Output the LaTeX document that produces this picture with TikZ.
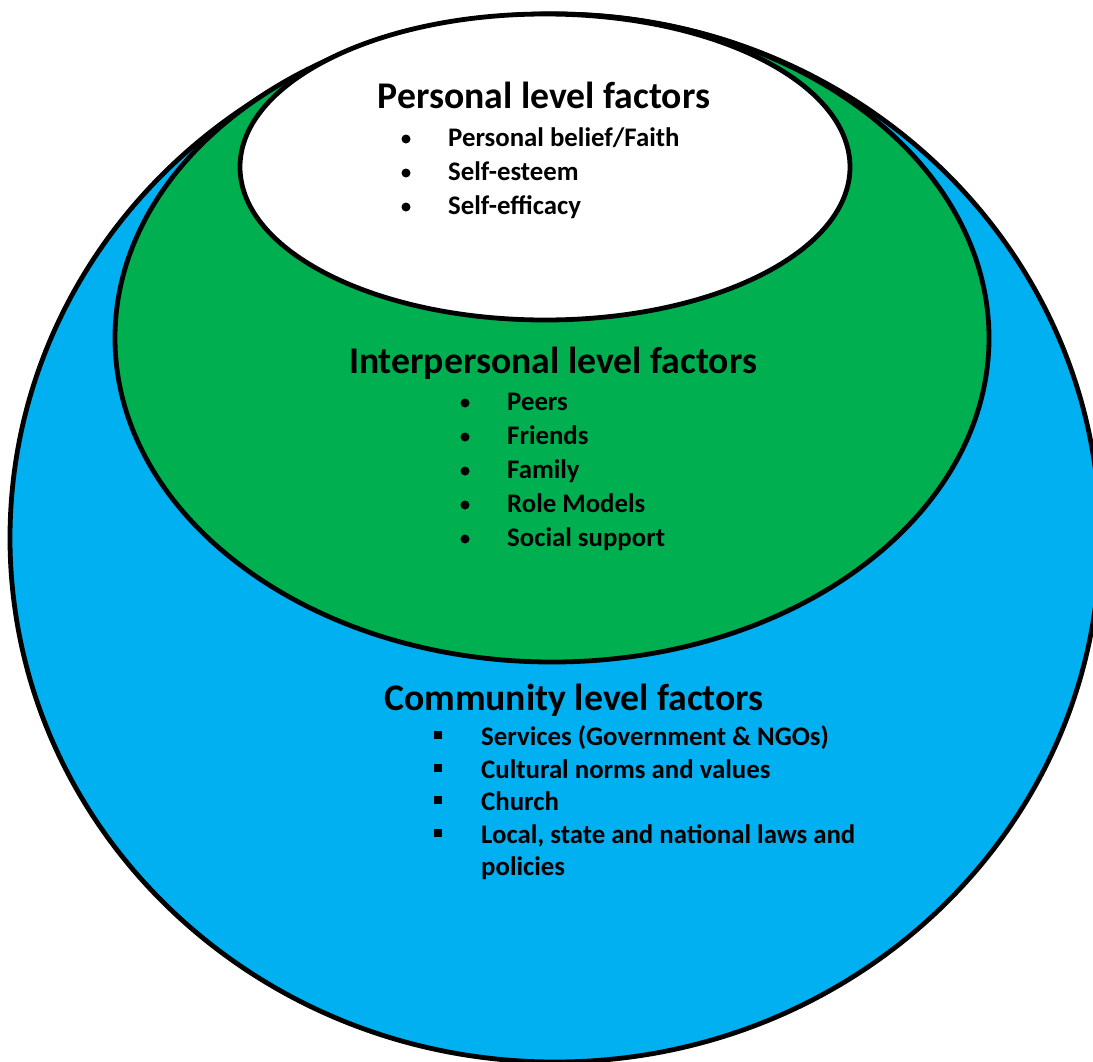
\documentclass[tikz,border=0pt]{standalone}
\usepackage{fontspec}
\setmainfont{Carlito}
\definecolor{commblue}{RGB}{0,176,240}
\definecolor{intgreen}{RGB}{0,176,80}
\begin{document}
\begin{tikzpicture}[x=1pt,y=-1pt,
  ring/.style={draw=black,line width=4.8pt},
  heading/.style={anchor=base,inner sep=0pt,font=\fontsize{37.7}{44}\selectfont\bfseries},
  item/.style={anchor=base west,inner sep=0pt,font=\fontsize{26.8}{32}\selectfont\bfseries},
  dot/.style={circle,fill=black,inner sep=0pt,minimum size=9pt},
  sq/.style={rectangle,fill=black,inner sep=0pt,minimum size=8pt}]
\clip (0,0) rectangle (1093,1061);
\fill[white] (0,0) rectangle (1093,1061);
% nested levels
\draw[ring,fill=commblue] (555,538) ellipse [x radius=545, y radius=524];
\draw[ring,fill=intgreen] (552,338) ellipse [x radius=437, y radius=324];
\draw[ring,fill=white] (545,167) ellipse [x radius=305, y radius=153];
% personal level
\node[heading] (ph) at (544,108) {Personal level factors};
\foreach \yy/\t [count=\i] in {146/{Personal belief/Faith}, 180/Self-esteem, 214/Self-efficacy}{
  \node[dot] (pd\i) at (406,\yy-7) {};
  \node[item] (p\i) at (448,\yy) {\t};
}
% interpersonal level
\node[heading] (ih) at (553,373) {Interpersonal level factors};
\foreach \yy/\t [count=\i] in {410/Peers, 444/Friends, 478/Family, 512/Role Models, 546/Social support}{
  \node[dot] (id\i) at (465,\yy-7) {};
  \node[item] (i\i) at (507,\yy) {\t};
}
% community level
\node[heading] (ch) at (574,710) {Community level factors};
\foreach \yy/\t [count=\i] in {745/{Services (Government \& NGOs)}, 778/Cultural norms and values, 810/Church, 843/{Local, state and national laws and}}{
  \node[sq] (cd\i) at (438,\yy-10) {};
  \node[item] (c\i) at (481,\yy) {\t};
}
\node[item] (c5) at (481,875) {policies};
\end{tikzpicture}
\end{document}
